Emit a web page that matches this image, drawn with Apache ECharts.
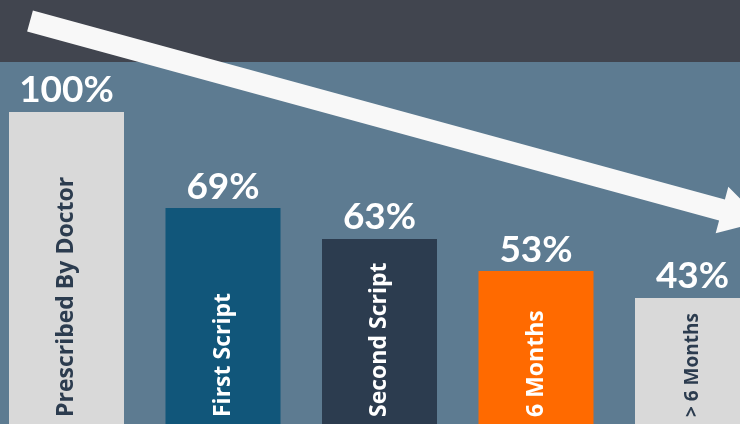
<!DOCTYPE html>
<html><head><meta charset="utf-8">
<script src="https://cdn.jsdelivr.net/npm/echarts@6/dist/echarts.min.js"></script>
<style>html,body{margin:0;padding:0;background:#5d7b91}#c{width:740px;height:424px}</style>
</head><body><div id="c"></div>
<script>
// Data
const categories = ["Prescribed By Doctor", "First Script", "Second Script", "6 Months", "> 6 Months"];
const valueLabels = ["100%", "69%", "63%", "53%", "43%"];
const barHeights = [100, 69.2, 59.3, 49.0, 40.4]; // drawn bar heights as measured in the picture
const barColors = ["#d9d9d9", "#11567a", "#2c3c4f", "#ff6a00", "#d9d9d9"];
const textColors = ["#2c3c4f", "#ffffff", "#ffffff", "#ffffff", "#2c3c4f"];

const chart = echarts.init(document.getElementById('c'), null, {renderer: 'canvas'});

// arrow geometry (decoration)
const sx = 30, sy = 21, ex = 722, ey = 210;
const dx = ex - sx, dy = ey - sy, len = Math.sqrt(dx*dx + dy*dy);
const ux = dx/len, uy = dy/len, px = -uy, py = ux;
const hw = 11, hh = 24, hl = 42;
const arrowPts = [
  [sx + px*hw, sy + py*hw],
  [ex + px*hw, ey + py*hw],
  [ex + px*hh, ey + py*hh],
  [ex + ux*hl, ey + uy*hl],
  [ex - px*hh, ey - py*hh],
  [ex - px*hw, ey - py*hw],
  [sx - px*hw, sy - py*hw]
];

chart.setOption({
  backgroundColor: '#5d7b91',
  animation: false,
  grid: {left: 66.5, right: 47.5, top: 112, bottom: 0, containLabel: false},
  xAxis: {type: 'category', data: categories, show: false, boundaryGap: false},
  yAxis: {type: 'value', min: 0, max: 100, show: false},
  graphic: [
    {type: 'rect', z: -10, silent: true, shape: {x: 0, y: 0, width: 740, height: 62}, style: {fill: '#41454f'}},
    {type: 'polygon', z: 100, silent: true, shape: {points: arrowPts}, style: {fill: '#f8f8f8'}}
  ],
  series: [
    {
      type: 'bar', barWidth: 115, clip: false,
      data: barHeights.map((v, i) => ({value: v, itemStyle: {color: barColors[i]}})),
      label: {
        show: true, position: 'top', distance: 3,
        formatter: p => valueLabels[p.dataIndex],
        color: '#ffffff', fontFamily: 'Lato', fontWeight: 'bold', fontSize: 37
      }
    },
    {
      type: 'bar', barWidth: 115, barGap: '-100%', clip: false,
      data: barHeights.map((v, i) => ({value: v, itemStyle: {color: 'rgba(0,0,0,0)'},
        label: {color: textColors[i], fontSize: i === categories.length - 1 ? 19 : 23}})),
      label: {
        show: true, position: 'insideBottom', rotate: 90, align: 'left', verticalAlign: 'middle',
        distance: 7,
        formatter: p => categories[p.dataIndex],
        fontFamily: 'Open Sans', fontWeight: 'bold', fontSize: 23
      }
    }
  ]
});
</script></body></html>
